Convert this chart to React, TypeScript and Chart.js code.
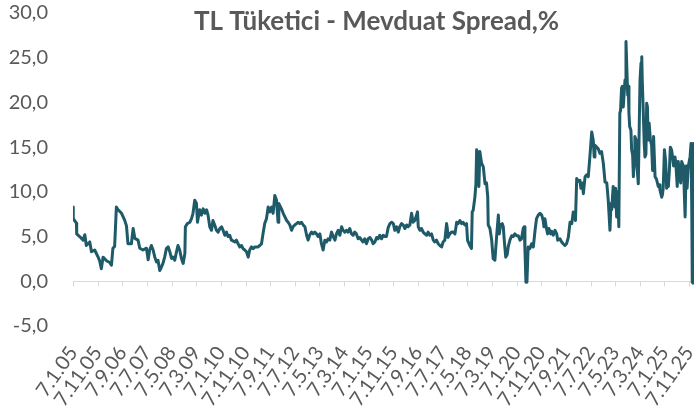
import React, { useEffect, useRef } from 'react';
import { Chart, registerables } from 'chart.js';

Chart.register(...registerables);

const chartTitle = 'TL Tüketici - Mevduat Spread,%';

// months since 7.1.05
const months = [
  0.0, 0.1, 1.4, 1.5, 2.7, 4.1, 4.8, 5.4, 6.8, 7.5, 8.8, 10.2, 10.8, 11.5, 12.2, 13.6, 14.9, 15.6, 16.2, 16.9,
  17.6, 18.3, 19.7, 21.0, 21.7, 22.3, 23.7, 24.4, 25.1, 26.4, 27.1, 28.4, 29.8, 30.5, 31.1, 31.8, 32.5, 33.2, 33.9, 34.5,
  35.2, 35.9, 36.5, 37.2, 37.9, 38.6, 39.3, 40.0, 40.6, 41.3, 42.0, 42.6, 43.3, 44.0, 44.7, 45.4, 45.6, 46.4, 47.4, 48.1,
  48.7, 49.4, 50.1, 50.5, 51.4, 52.1, 52.8, 53.5, 54.2, 54.8, 55.5, 56.2, 56.8, 57.5, 58.2, 58.9, 59.6, 60.3, 60.9, 61.6,
  62.3, 62.9, 63.6, 64.3, 65.7, 66.3, 67.0, 67.7, 68.4, 69.0, 69.7, 70.4, 71.1, 71.7, 72.4, 73.1, 73.8, 75.1, 75.8, 76.5,
  77.1, 77.8, 78.5, 79.2, 79.9, 80.6, 81.2, 81.9, 82.6, 83.2, 83.5, 84.6, 85.3, 86.0, 86.7, 87.3, 88.0, 88.7, 89.3, 90.0,
  90.7, 91.4, 92.0, 92.7, 93.4, 94.1, 94.8, 95.4, 96.1, 96.8, 97.4, 98.1, 98.8, 99.5, 100.2, 100.8, 101.5, 102.2, 102.9, 103.5,
  104.2, 104.9, 105.6, 106.3, 106.9, 107.6, 108.3, 109.0, 109.6, 110.3, 111.0, 111.6, 112.3, 113.0, 113.7, 114.3, 115.0, 115.7, 116.4, 117.1,
  117.7, 118.4, 119.1, 119.8, 120.5, 121.2, 121.8, 122.5, 123.2, 123.8, 124.5, 125.2, 125.9, 126.6, 127.2, 127.9, 128.6, 129.3, 130.0, 130.6,
  131.3, 132.0, 132.6, 133.3, 134.0, 134.7, 135.4, 136.0, 136.7, 137.4, 138.0, 138.7, 139.4, 139.8, 140.1, 140.8, 141.4, 142.1, 142.8, 143.5,
  144.1, 144.8, 145.5, 146.2, 146.8, 147.5, 148.2, 148.9, 149.6, 150.2, 150.9, 151.6, 151.9, 152.2, 152.9, 153.6, 154.3, 155.0, 155.7, 156.3,
  157.0, 157.7, 158.3, 159.0, 159.7, 160.1, 161.0, 161.7, 162.0, 162.4, 163.1, 163.5, 163.8, 164.4, 164.7, 165.1, 165.8, 166.5, 167.2, 167.8,
  168.3, 168.5, 169.2, 169.9, 170.5, 171.2, 171.9, 172.6, 173.0, 173.5, 174.2, 174.6, 175.0, 175.6, 176.2, 176.6, 177.3, 178.0, 178.6, 179.3,
  180.0, 180.7, 181.4, 182.0, 182.7, 183.1, 183.4, 183.8, 184.2, 184.7, 185.4, 186.1, 186.8, 187.5, 188.1, 188.8, 189.5, 190.2, 190.8, 191.1,
  191.5, 192.2, 192.6, 193.1, 193.9, 194.2, 194.9, 195.6, 196.3, 196.7, 197.6, 198.3, 198.9, 199.6, 200.3, 201.0, 201.7, 202.4, 203.0, 203.5,
  203.9, 204.4, 205.0, 205.7, 206.1, 206.7, 207.1, 207.8, 208.4, 209.1, 209.8, 210.5, 211.1, 211.5, 211.8, 212.5, 213.2, 213.8, 214.5, 215.2,
  215.9, 216.6, 217.2, 217.9, 218.3, 218.6, 219.2, 219.9, 220.2, 220.6, 221.0, 221.5, 221.9, 222.2, 222.6, 222.9, 223.3, 224.0, 224.4, 224.8,
  225.1, 225.3, 225.6, 225.9, 226.4, 226.7, 227.1, 227.4, 227.8, 228.0, 228.5, 228.7, 229.4, 229.8, 230.1, 230.5, 230.8, 231.0, 231.4, 231.8,
  232.1, 232.5, 232.8, 233.1, 233.4, 233.8, 234.3, 234.8, 235.2, 235.6, 236.2, 236.8, 237.5, 237.9, 238.2, 238.9, 239.2, 239.5, 240.0, 240.5,
  240.9, 241.3, 241.6, 242.0, 242.4, 242.9, 243.3, 243.7, 244.3, 244.7, 245.2, 245.6, 246.0, 246.6, 247.0, 247.7, 248.4, 248.8, 249.2, 249.7,
  250.4, 250.8, 251.1, 251.3, 251.6, 252.0,
];

const spread = [
  8.3, 7.0, 6.5, 5.3, 5.0, 4.6, 5.2, 4.0, 4.4, 3.3, 3.5, 2.7, 2.3, 1.4, 2.7, 2.3, 2.1, 1.8, 3.7, 3.9,
  8.3, 8.0, 7.6, 6.8, 6.2, 4.2, 4.2, 5.9, 4.8, 4.6, 3.7, 3.5, 3.7, 2.4, 3.5, 4.0, 3.5, 2.7, 2.15, 2.35,
  1.2, 1.6, 2.0, 2.7, 3.66, 3.85, 3.3, 2.55, 2.7, 2.35, 3.3, 4.0, 3.5, 2.55, 2.0, 3.1, 6.1, 6.45, 6.6, 7.0,
  7.6, 9.07, 8.7, 6.6, 8.0, 7.4, 8.1, 7.6, 8.0, 7.4, 6.1, 5.7, 6.8, 6.3, 5.7, 5.5, 5.9, 6.1, 5.7, 5.15,
  5.5, 5.0, 5.15, 4.6, 4.4, 4.6, 4.2, 3.84, 4.0, 3.66, 3.5, 3.3, 2.7, 3.5, 3.84, 3.66, 3.84, 3.84, 4.0, 4.2,
  5.3, 6.45, 7.0, 8.3, 7.76, 8.3, 7.6, 9.6, 9.07, 6.6, 8.7, 8.1, 7.6, 7.2, 6.8, 6.6, 6.3, 5.7, 6.1, 6.3,
  6.45, 6.6, 6.45, 6.6, 6.3, 6.1, 5.15, 4.6, 5.2, 5.5, 5.3, 5.5, 5.3, 5.0, 5.3, 4.2, 3.5, 4.6, 4.4, 4.75,
  4.6, 5.5, 5.0, 4.6, 5.3, 5.7, 5.15, 6.1, 5.7, 5.5, 5.7, 5.5, 5.9, 5.3, 5.15, 5.5, 5.3, 4.75, 4.9, 4.6,
  4.4, 4.75, 4.2, 4.75, 4.9, 4.6, 4.2, 4.4, 4.9, 4.75, 5.15, 4.75, 5.15, 5.0, 5.0, 6.0, 6.45, 6.6, 6.45, 5.7,
  6.1, 5.5, 6.1, 6.45, 6.3, 5.9, 6.3, 6.1, 6.3, 7.6, 6.6, 6.8, 7.4, 7.76, 6.1, 5.7, 5.9, 5.5, 5.3, 5.15,
  5.5, 5.15, 5.3, 4.6, 4.4, 4.6, 4.2, 4.0, 3.84, 4.4, 4.6, 6.45, 5.9, 4.9, 5.3, 5.5, 5.5, 5.3, 6.6, 6.45,
  6.8, 6.45, 6.6, 6.3, 6.45, 4.6, 4.0, 3.66, 7.76, 7.95, 9.44, 10.9, 14.7, 14.1, 10.6, 14.5, 13.2, 12.8, 10.9, 11.0,
  9.44, 6.3, 5.9, 4.6, 2.54, 2.35, 5.0, 7.4, 5.3, 6.3, 6.45, 6.1, 4.6, 2.7, 3.0, 3.84, 4.6, 5.1, 5.0, 5.3,
  5.1, 5.1, 4.6, 4.75, 5.9, 6.1, 3.5, -0.1, -0.1, 3.84, 3.66, 4.2, 3.84, 5.7, 7.0, 7.4, 7.6, 7.4, 6.8, 6.1,
  7.0, 5.8, 5.3, 5.9, 5.3, 5.6, 5.15, 5.7, 5.3, 4.6, 4.75, 4.4, 4.2, 4.0, 4.2, 4.9, 6.6, 6.45, 7.76, 7.6,
  6.8, 11.5, 11.2, 11.3, 10.4, 11.0, 9.8, 11.7, 11.9, 11.7, 14.1, 16.7, 15.8, 13.9, 15.2, 15.0, 14.8, 14.3, 14.5, 13.2,
  11.1, 11.0, 9.07, 5.7, 8.7, 8.0, 10.6, 8.3, 10.4, 7.2, 10.0, 6.1, 18.8, 19.1, 21.6, 21.8, 19.5, 22.5, 26.8, 23.3,
  20.8, 21.8, 18.8, 17.3, 16.9, 14.7, 14.1, 11.7, 13.8, 16.2, 15.8, 13.4, 10.9, 17.7, 22.5, 24.4, 25.1, 22.5, 19.1, 15.4,
  13.9, 14.2, 19.9, 19.5, 15.8, 17.7, 15.8, 15.2, 12.4, 16.2, 11.7, 11.4, 10.6, 10.8, 10.2, 9.4, 9.7, 10.4, 14.7, 13.4,
  10.4, 11.7, 10.6, 12.4, 15.0, 14.7, 13.9, 12.9, 13.9, 12.9, 10.6, 13.4, 12.4, 11.0, 13.4, 12.9, 7.2, 12.9, 10.4, 12.9,
  13.9, 15.4, 7.95, -0.1, -0.2, 15.4,
];

const tickMonths = [0, 10, 20, 30, 40, 50, 60, 70, 80, 90, 100, 110, 120, 130, 140, 150, 160, 170, 180, 190, 200, 210, 220, 230, 240, 250];
const tickLabels = [
  '7.1.05', '7.11.05', '7.9.06', '7.7.07', '7.5.08', '7.3.09', '7.1.10', '7.11.10', '7.9.11', '7.7.12',
  '7.5.13', '7.3.14', '7.1.15', '7.11.15', '7.9.16', '7.7.17', '7.5.18', '7.3.19', '7.1.20', '7.11.20',
  '7.9.21', '7.7.22', '7.5.23', '7.3.24', '7.1.25', '7.11.25',
];
const yTicks = [-5, 0, 5, 10, 15, 20, 25, 30];

const TEXT = '#595959';
const LINE = '#1e5a68';
const FONT = 'Lato, "Open Sans", sans-serif';

export default function App() {
  const ref = useRef<HTMLCanvasElement>(null);

  useEffect(() => {
    if (!ref.current) return;

    const zeroAxis = {
      id: 'zeroAxis',
      beforeDatasetsDraw(chart: any) {
        const { ctx, chartArea, scales } = chart;
        const x = scales.x;
        const y = scales.y;
        const y0 = Math.round(y.getPixelForValue(0)) + 0.5;
        ctx.save();
        ctx.strokeStyle = '#d9d9d9';
        ctx.lineWidth = 1;
        ctx.beginPath();
        ctx.moveTo(chartArea.left, y0);
        ctx.lineTo(chartArea.right, y0);
        tickMonths.forEach((m) => {
          const px = Math.round(x.getPixelForValue(m)) + 0.5;
          ctx.moveTo(px, y0);
          ctx.lineTo(px, y0 + 5);
        });
        ctx.stroke();
        ctx.restore();
      },
    };

    const titleText = {
      id: 'titleText',
      afterDraw(chart: any) {
        const { ctx } = chart;
        ctx.save();
        ctx.font = `bold 26px ${FONT}`;
        ctx.fillStyle = TEXT;
        ctx.textAlign = 'center';
        ctx.textBaseline = 'alphabetic';
        ctx.fillText(chartTitle, 376.5, 29.5);
        ctx.restore();
      },
    };

    const chart = new Chart(ref.current, {
      type: 'line',
      data: {
        datasets: [
          {
            data: months.map((m, i) => ({ x: m, y: spread[i] })),
            borderColor: LINE,
            borderWidth: 3,
            pointRadius: 0,
            tension: 0,
            fill: false,
            borderJoinStyle: 'round',
            borderCapStyle: 'round',
          },
        ],
      },
      options: {
        responsive: false,
        animation: false,
        layout: { padding: { top: 13, right: 2, left: 0, bottom: 0 } },
        plugins: {
          legend: { display: false },
          tooltip: { enabled: false },
          title: { display: false },
        },
        scales: {
          x: {
            type: 'linear',
            min: 0,
            max: 252,
            grid: { display: false },
            border: { display: false },
            afterBuildTicks: (s: any) => {
              s.ticks = tickMonths.map((v) => ({ value: v }));
            },
            afterFit: (s: any) => {
              s.height = 94;
              s.paddingLeft = 0;
              s.paddingRight = 0;
            },
            ticks: {
              autoSkip: false,
              minRotation: 55,
              maxRotation: 55,
              padding: 8,
              color: TEXT,
              font: { family: FONT, size: 20 },
              callback: (_v: any, i: number) => tickLabels[i],
            },
          },
          y: {
            min: -5,
            max: 30,
            grid: { display: false, drawTicks: false },
            border: { display: false },
            afterBuildTicks: (s: any) => {
              s.ticks = yTicks.map((v) => ({ value: v }));
            },
            afterFit: (s: any) => {
              s.width = 73;
              s.paddingTop = 0;
              s.paddingBottom = 0;
            },
            ticks: {
              padding: 25,
              color: TEXT,
              font: { family: FONT, size: 20 },
              callback: (v: any) => Number(v).toFixed(1).replace('.', ','),
            },
          },
        },
      },
      plugins: [zeroAxis, titleText],
    } as any);

    return () => chart.destroy();
  }, []);

  return (
    <div style={{ position: 'fixed', left: 0, top: 0, width: 696, height: 420, background: '#fff' }}>
      <canvas ref={ref} width={696} height={420} style={{ display: 'block' }} />
    </div>
  );
}
